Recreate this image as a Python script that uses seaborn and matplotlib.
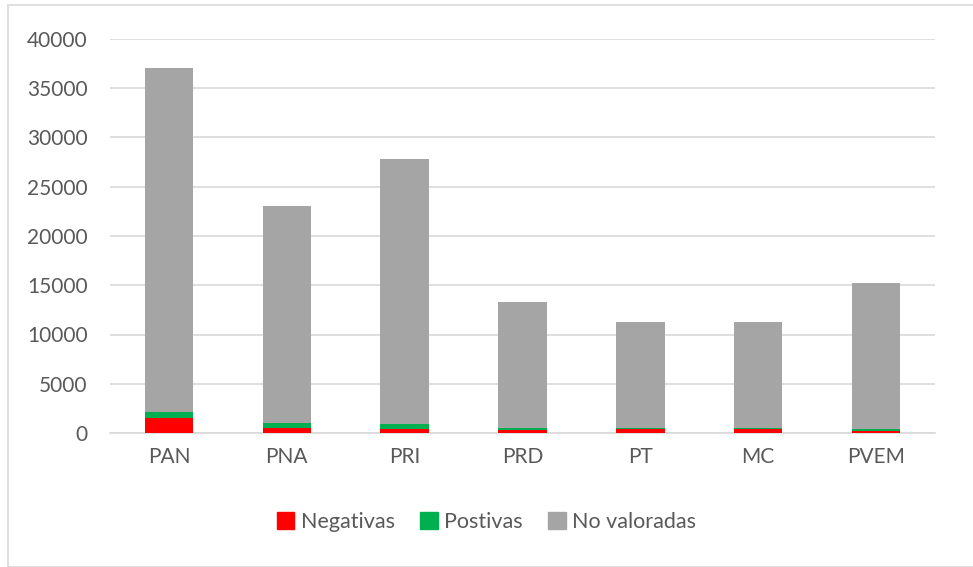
import numpy as np
import pandas as pd
import matplotlib.pyplot as plt
import matplotlib.patches as mpatches
import seaborn as sns

partidos = ['PAN', 'PNA', 'PRI', 'PRD', 'PT', 'MC', 'PVEM']
negativas = [1550, 540, 400, 300, 370, 400, 200]
positivas = [600, 500, 470, 230, 100, 60, 230]
no_valoradas = [34950, 21960, 26930, 12770, 10800, 10810, 14800]

col_neg = '#FF0000'
col_pos = '#00B050'
col_nv = '#A5A5A5'

df = pd.DataFrame({
    'partido': partidos,
    'neg': negativas,
    'pos': positivas,
    'nv': no_valoradas,
})
# cumulative heights, drawn back to front
df['neg_pos'] = df['neg'] + df['pos']
df['total'] = df['neg_pos'] + df['nv']

sns.set_style('white')
plt.rcParams['font.family'] = ['Lato', 'DejaVu Sans']

fig = plt.figure(figsize=(9.73, 5.67), dpi=100)
ax = fig.add_axes([110 / 973, 1 - 433 / 567, 825 / 973, 394 / 567])

for col, color in [('total', col_nv), ('neg_pos', col_pos), ('neg', col_neg)]:
    sns.barplot(data=df, x='partido', y=col, color=color, width=0.41,
                saturation=1, linewidth=0, ax=ax, zorder=3)

ax.set_ylim(0, 40000)
ax.set_yticks(np.arange(0, 40001, 5000))
ax.yaxis.grid(True, color='#d9d9d9', linewidth=1.2, zorder=0)
ax.set_axisbelow(True)
ax.set_xlabel('')
ax.set_ylabel('')
for s in ['top', 'right', 'left']:
    ax.spines[s].set_visible(False)
ax.spines['bottom'].set_color('#d9d9d9')
ax.spines['bottom'].set_linewidth(1.2)
ax.tick_params(axis='both', length=0, labelsize=15, colors='#595959')
ax.tick_params(axis='y', pad=16)
ax.tick_params(axis='x', pad=10)

handles = [mpatches.Patch(color=col_neg, label='Negativas'),
           mpatches.Patch(color=col_pos, label='Postivas'),
           mpatches.Patch(color=col_nv, label='No valoradas')]
leg = fig.legend(handles=handles, loc='center', bbox_to_anchor=(0.5, 1 - 522 / 567),
                 ncol=3, frameon=False, fontsize=15.5, handlelength=0.8, handleheight=0.8,
                 handletextpad=0.3, columnspacing=1.2)
for t in leg.get_texts():
    t.set_color('#595959')

fig.patches.append(mpatches.Rectangle((8 / 973, 0.0), 1.0, 1 - 5 / 567, transform=fig.transFigure,
                                      fill=False, edgecolor='#d9d9d9', linewidth=1.2))

fig.savefig('out.png', dpi=100)
